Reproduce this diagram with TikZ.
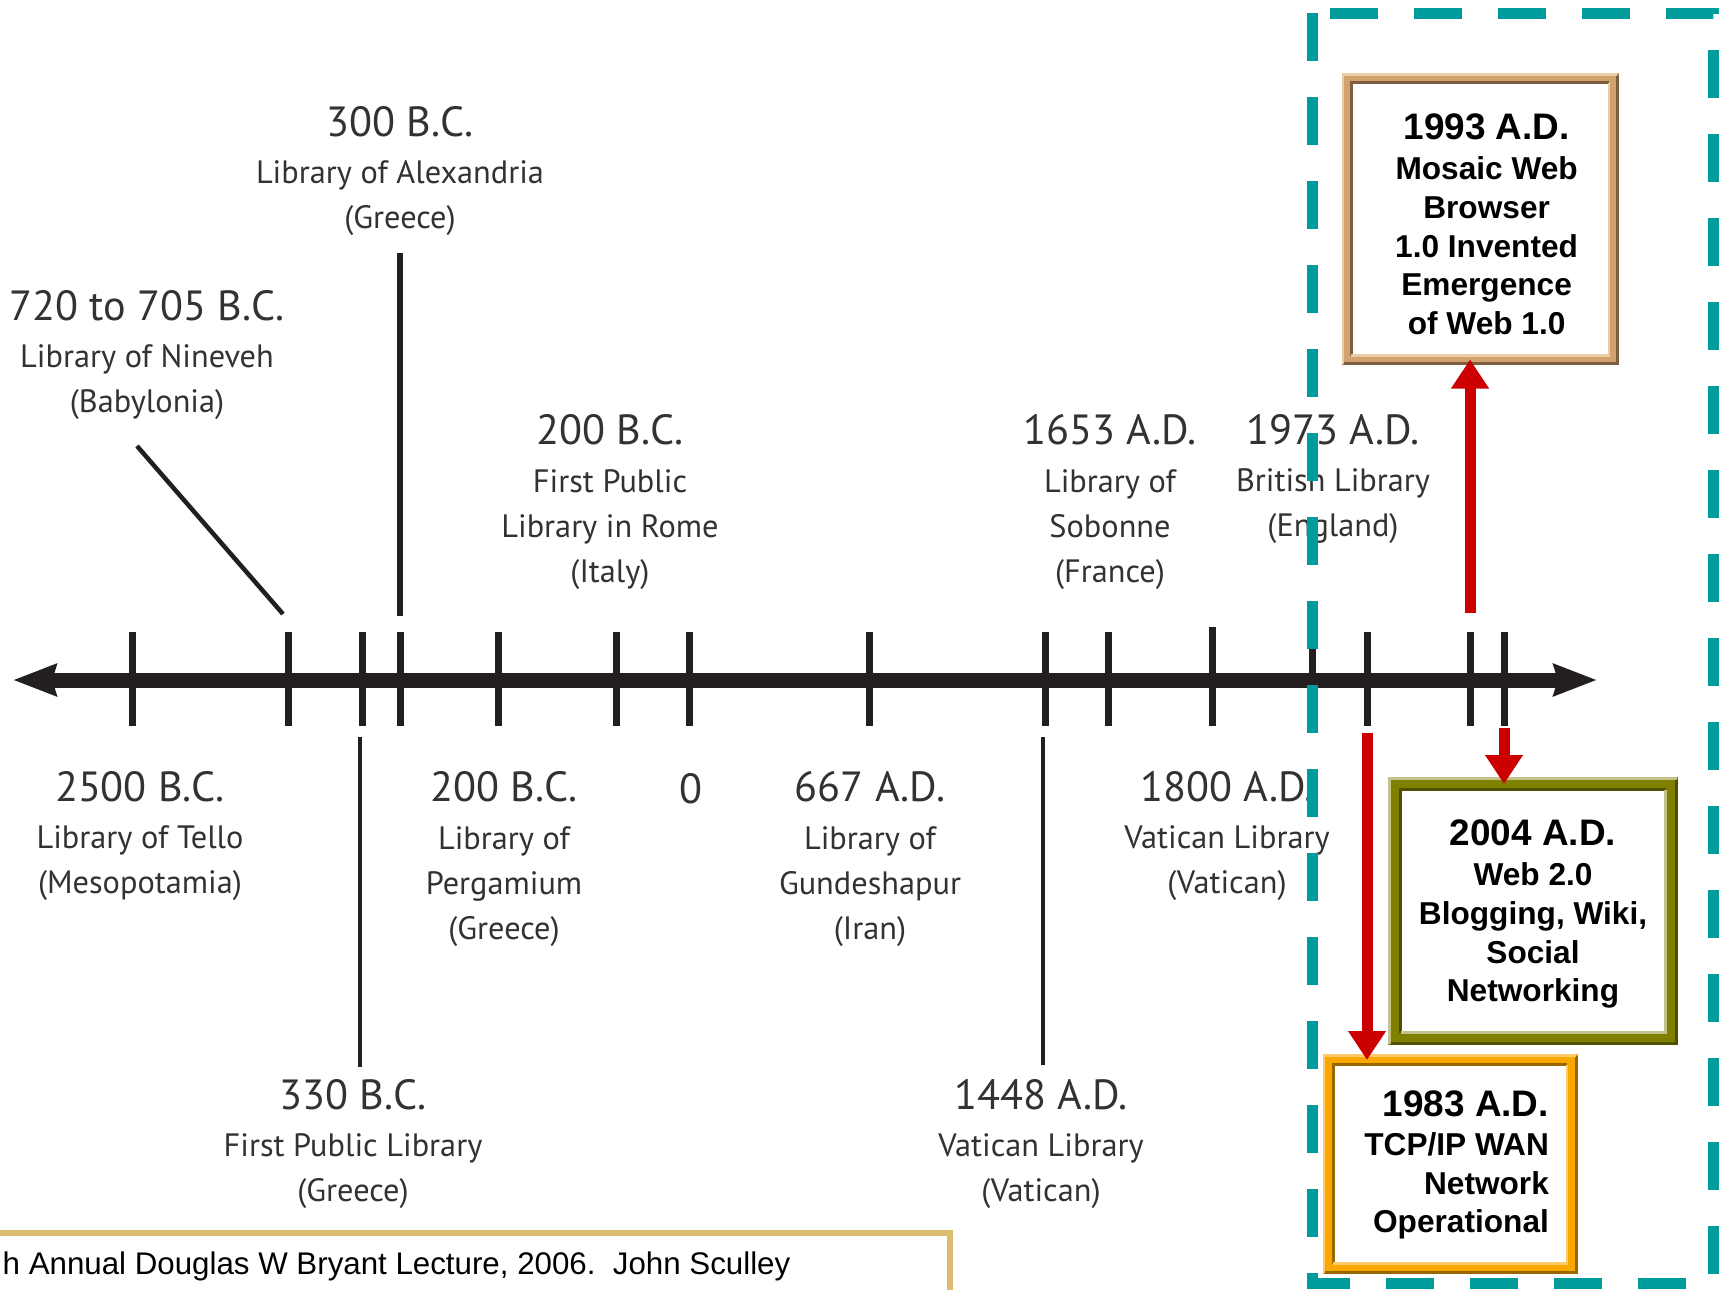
\documentclass[tikz,border=0pt]{standalone}
\usepackage{fontspec}
\usepackage{tikz}
\usetikzlibrary{
arrows.meta,
positioning,
calc
}
\newfontfamily\labelfamily{PT Sans}
\newfontfamily\boxfamily{Liberation Sans}
\definecolor{LabelGray}{HTML}{333132}
\definecolor{AxisBlack}{HTML}{231F20}
\definecolor{TealDash}{HTML}{009B9B}
\definecolor{ArrowRed}{HTML}{CC0000}
\definecolor{TanFrame}{HTML}{D2A16E}
\definecolor{TanDark}{HTML}{7D5F3F}
\definecolor{TanLight}{HTML}{EACCA6}
\definecolor{OliveFrame}{HTML}{808000}
\definecolor{OliveDark}{HTML}{505000}
\definecolor{OliveLight}{HTML}{C2C28A}
\definecolor{OrangeFrame}{HTML}{F8A800}
\definecolor{OrangeDark}{HTML}{9A6800}
\definecolor{OrangeLight}{HTML}{FFCB6A}
\definecolor{CiteGold}{HTML}{DBBD72}
\newcommand{\datesize}{\fontsize{12}{14}\selectfont}
\newcommand{\boxdatesize}{\fontsize{10.5}{12}\selectfont}
% bevel edges of a framed box: node, dark, light, offset
\newcommand{\bevel}[4]{%
  \draw[#2, line width=0.3mm] ([shift={(#4,-#4)}]#1.south west) -- ([shift={(#4,#4)}]#1.north west) -- ([shift={(-#4,#4)}]#1.north east);
  \draw[#2, line width=0.3mm] ([shift={(#4,-#4)}]#1.north east) -- ([shift={(#4,#4)}]#1.south east) -- ([shift={(-#4,#4)}]#1.south west);
  \draw[#3, line width=0.25mm] ([shift={(-#4,#4)}]#1.south west) -- ([shift={(-#4,-#4)}]#1.north west) -- ([shift={(#4,-#4)}]#1.north east);
  \draw[#3, line width=0.25mm] ([shift={(-#4,#4)}]#1.north east) -- ([shift={(-#4,-#4)}]#1.south east) -- ([shift={(#4,-#4)}]#1.south west);
}

\begin{document}
\begin{tikzpicture}[x=0.1mm,y=-0.1mm,
    era/.style={text=LabelGray, align=center, inner sep=0pt, font=\labelfamily\fontsize{9.2}{12.8}\selectfont},
    leader/.style={AxisBlack, line width=0.6mm},
    evbox/.style={draw=#1, fill=white, inner sep=0pt, outer sep=0pt},
    evtext/.style={align=center, inner sep=0pt, font=\boxfamily\bfseries\fontsize{9}{11}\selectfont},
    redarrow/.style={ArrowRed, line width=1.1mm, -{Triangle[length=2.9mm,width=3.6mm]}}]
    \useasboundingbox (0,0) rectangle (1725,1289);
    \clip (0,0) rectangle (1725,1289);

    % time axis
    \coordinate (axL) at (13,680);
    \coordinate (axR) at (1597,680);
    \draw[AxisBlack, line width=1.5mm, {Stealth[length=4.3mm,width=3.1mm,inset=0.4mm]}-{Stealth[length=4.3mm,width=3.1mm,inset=0.4mm]}] (axL) -- (axR);
    \foreach \x in {132,288,362,400,498,616,689,869,1045,1108,1312,1367,1470,1504}{
        \draw[AxisBlack, line width=0.7mm] (\x,632) -- (\x,726);
    }
    \draw[AxisBlack, line width=0.7mm] (1212,627) -- (1212,726);

    % labels above the axis
    \node[era] (alexandria) at (400,171) {{\datesize 300 B.C.}\\[0.7pt] Library of Alexandria\\ (Greece)};
    \node[era] (nineveh) at (147,355) {{\datesize 720 to 705 B.C.}\\[0.7pt] Library of Nineveh\\ (Babylonia)};
    \node[era] (rome) at (610,502) {{\datesize 200 B.C.}\\[0.7pt] First Public\\ Library in Rome\\ (Italy)};
    \node[era] (sorbonne) at (1110,502) {{\datesize 1653 A.D.}\\[0.7pt] Library of\\ Sobonne\\ (France)};
    \node[era] (british) at (1333,479) {{\datesize 1973 A.D.}\\[0.7pt] British Library\\ (England)};

    % labels below the axis
    \node[era] (tello) at (140,836) {{\datesize 2500 B.C.}\\[0.7pt] Library of Tello\\ (Mesopotamia)};
    \node[era] (pergamium) at (504,859) {{\datesize 200 B.C.}\\[0.7pt] Library of\\ Pergamium\\ (Greece)};
    \node[era] (zero) at (691,789) {{\datesize 0}};
    \node[era] (gundeshapur) at (870,859) {{\datesize 667 A.D.}\\[0.7pt] Library of\\ Gundeshapur\\ (Iran)};
    \node[era] (vatican1800) at (1227,836) {{\datesize 1800 A.D.}\\[0.7pt] Vatican Library\\ (Vatican)};
    \node[era] (greece330) at (353,1144) {{\datesize 330 B.C.}\\[0.7pt] First Public Library\\ (Greece)};
    \node[era] (vatican1448) at (1041,1144) {{\datesize 1448 A.D.}\\[0.7pt] Vatican Library\\ (Vatican)};

    % leader lines
    \coordinate (l300a) at (400,253);  \coordinate (l300b) at (400,616);
    \coordinate (l705a) at (137,446);  \coordinate (l705b) at (283,614);
    \coordinate (l330a) at (360,737);  \coordinate (l330b) at (360,1067);
    \coordinate (l1448a) at (1043,737); \coordinate (l1448b) at (1043,1065);
    \draw[leader] (l300a) -- (l300b);
    \draw[leader, line width=0.45mm] (l705a) -- (l705b);
    \draw[leader, line width=0.45mm] (l330a) -- (l330b);
    \draw[leader, line width=0.45mm] (l1448a) -- (l1448b);

    % web era frame
    \draw[TealDash, line width=1.1mm, dash pattern=on 4.8mm off 3.6mm] (1312,13) -- (1312,1283) -- (1713,1283) -- (1713,13) -- cycle;

    \node[evbox=TanFrame, line width=1.1mm, minimum width=26.6mm, minimum height=28.1mm] (mosaic) at (1480,219) {};
    \node[evtext] (mosaictext) at ([shift={(6.6,5.5)}]mosaic.center)
        {{\boxdatesize 1993 A.D.}\\[0.37pt] Mosaic Web\\ Browser\\ 1.0 Invented\\ Emergence\\ of Web 1.0};
    \node[evbox=OliveFrame, line width=1.4mm, minimum width=27.6mm, minimum height=25.4mm] (web2) at (1533,911) {};
    \node[evtext] (web2text) at ([shift={(0,3.3)}]web2.center)
        {{\boxdatesize 2004 A.D.}\\[0.37pt] Web 2.0\\ Blogging, Wiki,\\ Social\\ Networking};
    \node[evbox=OrangeFrame, line width=1.2mm, minimum width=24.3mm, minimum height=20.8mm] (tcpip) at (1450,1164) {};
    \node[evtext, align=right] (tcpiptext) at ([shift={(6.6,1)}]tcpip.center)
        {{\boxdatesize 1983 A.D.}\\[0.2pt] TCP/IP WAN\\ Network\\ Operational};
    \bevel{mosaic}{TanDark}{TanLight}{4}
    \bevel{web2}{OliveDark}{OliveLight}{5.5}
    \bevel{tcpip}{OrangeDark}{OrangeLight}{4.5}

    % red arrows from the axis
    \coordinate (t1993) at (1470,613);
    \coordinate (t2004) at (1504,728);
    \coordinate (t1983) at (1367,733);
    \draw[redarrow] (t1993) -- (t1993 |- mosaic.south);
    \draw[redarrow] (t2004) -- (t2004 |- web2.north);
    \draw[redarrow] (t1983) -- (t1983 |- tcpip.north);

    % lecture credit
    \draw[CiteGold, line width=0.6mm, fill=white] (-30,1233) rectangle (950,1330);
    \node[anchor=west, inner sep=0pt, font=\boxfamily\fontsize{8.9}{10}\selectfont] (lecture) at (2,1266)
        {h Annual Douglas W Bryant Lecture, 2006.\ \ John Sculley};
\end{tikzpicture}
\end{document}
